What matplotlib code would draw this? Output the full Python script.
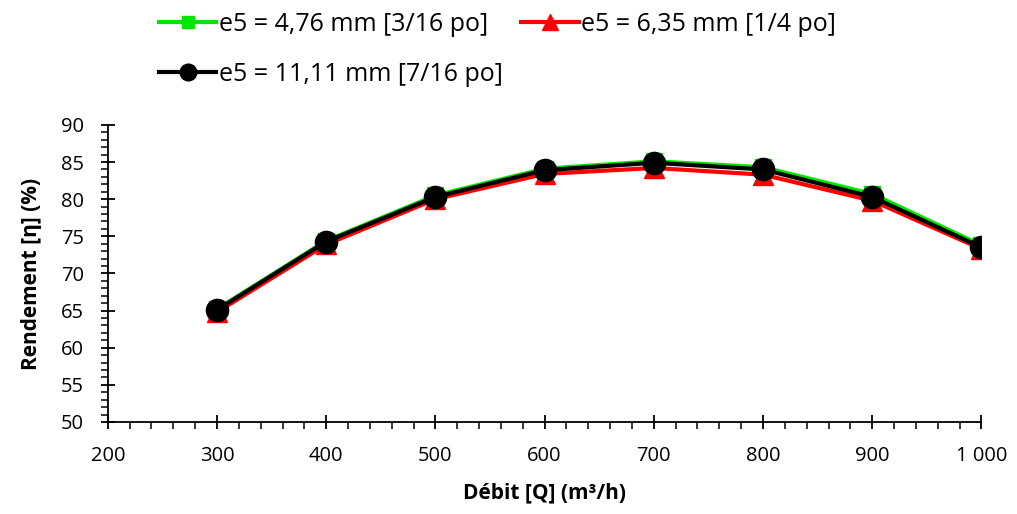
import numpy as np
import matplotlib
matplotlib.use('Agg')
import matplotlib.pyplot as plt
from matplotlib.ticker import MultipleLocator, FuncFormatter

plt.rcParams['font.family'] = ['Open Sans', 'DejaVu Sans']

# Data
debit = [300, 400, 500, 600, 700, 800, 900, 1000]
rend_476 = [65.2, 74.4, 80.5, 84.1, 85.1, 84.3, 80.7, 73.8]
rend_635 = [64.8, 73.9, 80.0, 83.4, 84.2, 83.3, 79.8, 73.3]
rend_1111 = [65.1, 74.3, 80.3, 83.9, 84.9, 84.0, 80.3, 73.5]

labels = ['e5 = 4,76 mm [3/16 po]', 'e5 = 6,35 mm [1/4 po]', 'e5 = 11,11 mm [7/16 po]']

fig = plt.figure(figsize=(10.17, 5.14), dpi=100)
ax = fig.add_axes([0.106, 0.179, 0.859, 0.578])

l1, = ax.plot(debit, rend_476, color='#00e600', marker='s', markersize=12, lw=3, label=labels[0])
l2, = ax.plot(debit, rend_635, color='#ff0000', marker='^', markersize=15, lw=3, label=labels[1])
l3, = ax.plot(debit, rend_1111, color='black', marker='o', markersize=16, lw=3, label=labels[2])

ax.set_xlim(200, 1000)
ax.set_ylim(50, 90)
ax.xaxis.set_major_locator(MultipleLocator(100))
ax.xaxis.set_minor_locator(MultipleLocator(20))
ax.yaxis.set_major_locator(MultipleLocator(5))
ax.yaxis.set_minor_locator(MultipleLocator(1))
ax.xaxis.set_major_formatter(FuncFormatter(lambda v, p: f'{int(v):,}'.replace(',', ' ')))

for s in ['top', 'right']:
    ax.spines[s].set_visible(False)
for s in ['left', 'bottom']:
    ax.spines[s].set_linewidth(1.3)

ax.tick_params(which='major', direction='inout', length=10, width=1.3, labelsize=14.5)
ax.tick_params(axis='y', which='major', pad=12)
ax.tick_params(axis='x', which='major', pad=12)
ax.tick_params(which='minor', direction='out', length=5, width=1.1)

ax.set_xlabel('Débit [Q] (m³/h)', fontsize=15, fontweight='bold', labelpad=12)
ax.set_ylabel('Rendement [η] (%)', fontsize=15, fontweight='bold', labelpad=14)

fig.legend([l1, l3, l2], [labels[0], labels[2], labels[1]], ncol=2,
           loc='upper left', bbox_to_anchor=(0.134, 1.02), frameon=False,
           fontsize=18, handlelength=2.3, handletextpad=0.1,
           columnspacing=0.75, labelspacing=1.0, markerscale=0.75)

fig.savefig('out.png', dpi=100)
